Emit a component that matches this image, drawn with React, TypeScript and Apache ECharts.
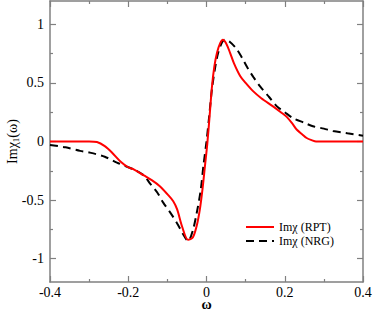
import React, { useEffect, useRef } from "react";
import * as echarts from "echarts";

const rptX = [-0.4, -0.35, -0.3, -0.28, -0.26, -0.24, -0.22, -0.2, -0.185, -0.16, -0.14, -0.12, -0.1, -0.085, -0.075, -0.062, -0.047, -0.035, -0.025, -0.017, -0.01, -0.004, 0.002, 0.008, 0.014, 0.02, 0.027, 0.035, 0.042, 0.05, 0.06, 0.07, 0.086, 0.1, 0.119, 0.14, 0.17, 0.19, 0.205, 0.22, 0.231, 0.245, 0.256, 0.27, 0.28, 0.3, 0.4];
const rptY = [0, 0, 0, -0.005, -0.04, -0.1, -0.17, -0.22, -0.24, -0.29, -0.33, -0.38, -0.45, -0.51, -0.58, -0.73, -0.84, -0.82, -0.72, -0.58, -0.4, -0.21, -0.02, 0.22, 0.47, 0.64, 0.76, 0.84, 0.87, 0.84, 0.76, 0.67, 0.56, 0.5, 0.43, 0.37, 0.3, 0.25, 0.21, 0.15, 0.1, 0.06, 0.03, 0.01, 0, 0, 0];

const nrgX = [-0.4, -0.36, -0.323, -0.298, -0.26, -0.229, -0.2, -0.185, -0.16, -0.144, -0.125, -0.111, -0.09, -0.075, -0.06, -0.047, -0.035, -0.025, -0.015, -0.008, 0, 0.007, 0.014, 0.022, 0.03, 0.04, 0.047, 0.06, 0.077, 0.09, 0.103, 0.12, 0.137, 0.16, 0.18, 0.2, 0.221, 0.25, 0.272, 0.3, 0.323, 0.36, 0.4];
const nrgY = [-0.03, -0.05, -0.08, -0.095, -0.13, -0.18, -0.22, -0.24, -0.29, -0.36, -0.44, -0.52, -0.62, -0.7, -0.79, -0.85, -0.76, -0.61, -0.42, -0.21, 0, 0.22, 0.45, 0.63, 0.76, 0.85, 0.87, 0.85, 0.79, 0.72, 0.64, 0.55, 0.47, 0.38, 0.3, 0.25, 0.2, 0.16, 0.13, 0.11, 0.09, 0.07, 0.05];

const yMajor = [-1, -0.5, 0, 0.5, 1];
const yMinor = [-0.75, -0.25, 0.25, 0.75];
const seriesNames = ["Imχ (RPT)", "Imχ (NRG)"];

const FONT = "'Liberation Serif', 'Times New Roman', serif";
const AXIS_COLOR = "#808080";

export default function App() {
  const ref = useRef<HTMLDivElement>(null);
  useEffect(() => {
    if (!ref.current) return;
    const chart = echarts.init(ref.current, undefined, { renderer: "svg" });
    const axisLine = { show: true, onZero: false, lineStyle: { color: AXIS_COLOR, width: 1.5 } };
    const xBase = {
      type: "value" as const,
      min: -0.4,
      max: 0.4,
      interval: 0.2,
      axisLine,
      splitLine: { show: false },
      axisTick: { show: true, inside: true, length: 6, lineStyle: { color: AXIS_COLOR, width: 1.2 } },
      minorTick: { show: true, splitNumber: 2, length: 3, lineStyle: { color: AXIS_COLOR, width: 1.2 } },
    };
    const yMaj = (pos: "left" | "right", labels: boolean) => ({
      type: "value" as const,
      position: pos,
      min: -1.2,
      max: 1.2,
      axisLine,
      splitLine: { show: false },
      axisTick: { show: true, inside: true, length: 6, customValues: yMajor, lineStyle: { color: AXIS_COLOR, width: 1.2 } },
      axisLabel: labels
        ? { show: true, customValues: yMajor, color: "#000", fontFamily: FONT, fontSize: 14, margin: 6 }
        : { show: false },
    });
    const yMin = (pos: "left" | "right") => ({
      type: "value" as const,
      position: pos,
      min: -1.2,
      max: 1.2,
      axisLine: { show: false, onZero: false },
      splitLine: { show: false },
      axisTick: { show: true, inside: true, length: 3, customValues: yMinor, lineStyle: { color: AXIS_COLOR, width: 1.2 } },
      axisLabel: { show: false },
    });
    chart.setOption({
      animation: false,
      textStyle: { fontFamily: FONT },
      grid: { left: 50, right: 11, top: 1, bottom: 27, containLabel: false, outerBoundsMode: "none" },
      legend: {
        left: 240,
        top: 216,
        orient: "vertical",
        itemWidth: 28,
        itemHeight: 14,
        itemGap: 2,
        itemStyle: { opacity: 0 },
        textStyle: { fontFamily: FONT, fontSize: 12, color: "#000" },
        data: seriesNames,
      },
      xAxis: [
        {
          ...xBase,
          position: "bottom",
          name: "ω",
          nameLocation: "middle",
          nameGap: 17,
          nameMoveOverlap: false,
          nameTextStyle: { fontFamily: FONT, fontSize: 14, fontWeight: "bold", color: "#000", lineHeight: 10 },
          axisLabel: { color: "#000", fontFamily: FONT, fontSize: 14, margin: 4, lineHeight: 13 },
        },
        { ...xBase, position: "top", axisLabel: { show: false } },
      ],
      yAxis: [
        {
          ...yMaj("left", true),
          name: "Imχ{sub|1}(ω)",
          nameLocation: "middle",
          nameGap: 30,
          nameMoveOverlap: false,
          nameTextStyle: {
            fontFamily: FONT,
            fontSize: 14,
            color: "#000",
            rich: {
              sub: { fontFamily: FONT, fontSize: 9, color: "#000", verticalAlign: "bottom", padding: [6, 0, 0, 0] },
            },
          },
        },
        yMaj("right", false),
        yMin("left"),
        yMin("right"),
      ],
      series: [
        {
          name: seriesNames[0],
          type: "line",
          data: rptX.map((x, i) => [x, rptY[i]]),
          symbol: "none",
          smooth: 0.3,
          lineStyle: { color: "#ff0000", width: 2 },
          itemStyle: { color: "#ff0000" },
          z: 3,
        },
        {
          name: seriesNames[1],
          type: "line",
          data: nrgX.map((x, i) => [x, nrgY[i]]),
          symbol: "none",
          smooth: 0.3,
          lineStyle: { color: "#000", width: 2, type: [8, 5] },
          itemStyle: { color: "#000" },
          z: 2,
        },
      ],
    });
    return () => chart.dispose();
  }, []);
  return <div ref={ref} style={{ position: "fixed", left: 0, top: 0, width: 374, height: 309, background: "#fff" }} />;
}
